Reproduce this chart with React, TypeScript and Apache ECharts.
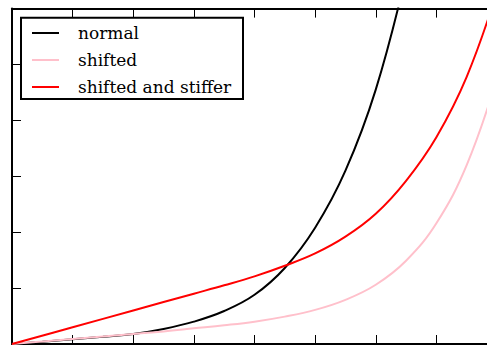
import React, { useEffect, useRef } from "react";
import * as echarts from "echarts";

const seriesNames = ["normal", "shifted", "shifted and stiffer"];
const seriesColors = ["#000000", "#ffc0cb", "#ff0000"];

const normalX = [0, 0.5, 1, 1.5, 2, 2.5, 3, 3.5, 4, 4.5, 5, 5.5, 6, 6.5];
const normalY = [0, 0.04, 0.085, 0.13, 0.18, 0.27, 0.4, 0.59, 0.88, 1.36, 2.08, 3.1, 4.55, 6.6];

const shiftedX = [0, 0.5, 1, 1.5, 2, 2.5, 3, 3.5, 4, 4.5, 5, 5.5, 6, 6.5, 7, 7.5, 8];
const shiftedY = [0, 0.045, 0.09, 0.135, 0.18, 0.225, 0.28, 0.335, 0.4, 0.49, 0.61, 0.79, 1.06, 1.49, 2.16, 3.2, 4.75];

const stifferX = [0, 1, 2, 3, 3.5, 4, 4.5, 5, 5.5, 6, 6.5, 7, 7.5, 8];
const stifferY = [0, 0.3, 0.6, 0.9, 1.05, 1.21, 1.4, 1.62, 1.92, 2.33, 2.92, 3.7, 4.78, 6.3];

const xMin = 0, xMax = 8, xStep = 1;
const yMin = 0, yMax = 6, yStep = 1;

const FONT = "DejaVu Serif, DejaVu Sans, sans-serif";

function pairs(xs: number[], ys: number[]) {
  return xs.map((x, i) => [x, ys[i]]);
}

export default function App() {
  const ref = useRef<HTMLDivElement>(null);
  useEffect(() => {
    if (!ref.current) return;
    const chart = echarts.init(ref.current, undefined, { renderer: "svg" });
    const axisCommon = {
      type: "value" as const,
      axisLine: { show: true, onZero: false, lineStyle: { color: "#000", width: 2 } },
      axisTick: { show: true, inside: true, length: 9, lineStyle: { color: "#000", width: 1 } },
      axisLabel: { show: false },
      splitLine: { show: false },
    };
    const datasets = [pairs(normalX, normalY), pairs(shiftedX, shiftedY), pairs(stifferX, stifferY)];
    const legendItems: any[] = [
      {
        type: "rect",
        shape: { x: 21, y: 17.7, width: 222, height: 81.3 },
        style: { fill: "#fff", stroke: "#000", lineWidth: 2 },
      },
    ];
    seriesNames.forEach((name, i) => {
      const cy = 33 + i * 27;
      legendItems.push({
        type: "line",
        shape: { x1: 32, y1: cy, x2: 59, y2: cy },
        style: { stroke: seriesColors[i], lineWidth: 2 },
      });
      legendItems.push({
        type: "text",
        x: 78,
        y: cy,
        style: {
          text: name,
          fontFamily: FONT,
          fontSize: 17,
          fill: "#000",
          verticalAlign: "middle",
          align: "left",
        },
      });
    });
    chart.setOption({
      animation: false,
      backgroundColor: "#fff",
      grid: { left: 12, top: 8.6, width: 485, height: 335.4, containLabel: false },
      xAxis: [
        { ...axisCommon, min: xMin, max: xMax, interval: xStep, position: "bottom" },
        { ...axisCommon, min: xMin, max: xMax, interval: xStep, position: "top" },
      ],
      yAxis: [
        { ...axisCommon, min: yMin, max: yMax, interval: yStep, position: "left" },
        { ...axisCommon, min: yMin, max: yMax, interval: yStep, position: "right" },
      ],
      graphic: [{ type: "group", z: 100, children: legendItems }],
      series: seriesNames.map((name, i) => ({
        name,
        type: "line",
        data: datasets[i],
        showSymbol: false,
        symbol: "none",
        smooth: 0.4,
        clip: true,
        lineStyle: { color: seriesColors[i], width: 2 },
        itemStyle: { color: seriesColors[i] },
      })),
    });
    return () => chart.dispose();
  }, []);
  return (
    <div style={{ position: "fixed", left: 0, top: 0, width: 487, height: 345, overflow: "hidden", background: "#fff" }}>
      <div ref={ref} style={{ width: 520, height: 360 }} />
    </div>
  );
}
